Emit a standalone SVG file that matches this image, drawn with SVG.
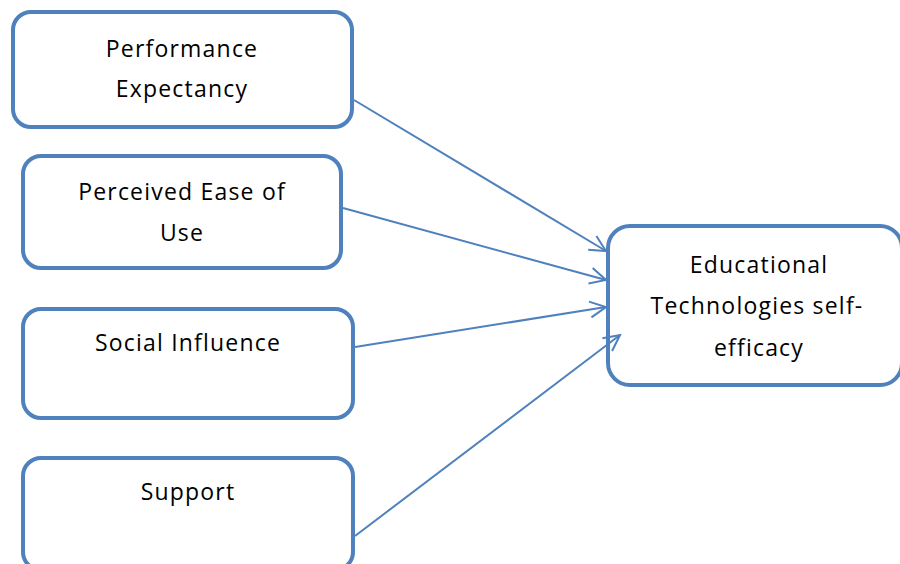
<svg xmlns="http://www.w3.org/2000/svg" width="900" height="564" viewBox="0 0 900 564">
<defs>
<style>
.box{fill:#fff;stroke:#4F81BD;stroke-width:4}
.t{font-family:"Open Sans","Liberation Sans",sans-serif;font-size:23px;fill:#000;text-anchor:middle;letter-spacing:1.2px}
.c{stroke:#4F81BD;stroke-width:2;fill:none}
</style>
<marker id="ah" markerWidth="20" markerHeight="20" refX="18" refY="10" orient="auto" markerUnits="userSpaceOnUse">
<path d="M2,2 L18,10 L2,18" fill="none" stroke="#4F81BD" stroke-width="2"/>
</marker>
</defs>
<rect width="900" height="564" fill="#fff"/>
<g id="pe">
<rect class="box" x="13" y="12" width="339" height="115" rx="18"/>
<text class="t" x="182" y="57">Performance</text>
<text class="t" x="182" y="97">Expectancy</text>
</g>
<g id="peou">
<rect class="box" x="23" y="156" width="318" height="112" rx="18"/>
<text class="t" x="182" y="200">Perceived Ease of</text>
<text class="t" x="182" y="241">Use</text>
</g>
<g id="si">
<rect class="box" x="23" y="309" width="330" height="109" rx="18"/>
<text class="t" x="188" y="351">Social Influence</text>
</g>
<g id="sup">
<rect class="box" x="23" y="458" width="330" height="112" rx="18"/>
<text class="t" x="188" y="500">Support</text>
</g>
<g id="ets">
<rect class="box" x="608" y="226" width="294" height="159" rx="22"/>
<text class="t" x="759" y="273">Educational</text>
<text class="t" x="757" y="314">Technologies self-</text>
<text class="t" x="759" y="356">efficacy</text>
</g>
<g id="connectors">
<line class="c" x1="354" y1="100" x2="606" y2="251" marker-end="url(#ah)"/>
<line class="c" x1="343" y1="208" x2="606" y2="280" marker-end="url(#ah)"/>
<line class="c" x1="355" y1="347" x2="606" y2="307" marker-end="url(#ah)"/>
<line class="c" x1="355" y1="536" x2="620" y2="335" marker-end="url(#ah)"/>
</g>
</svg>
